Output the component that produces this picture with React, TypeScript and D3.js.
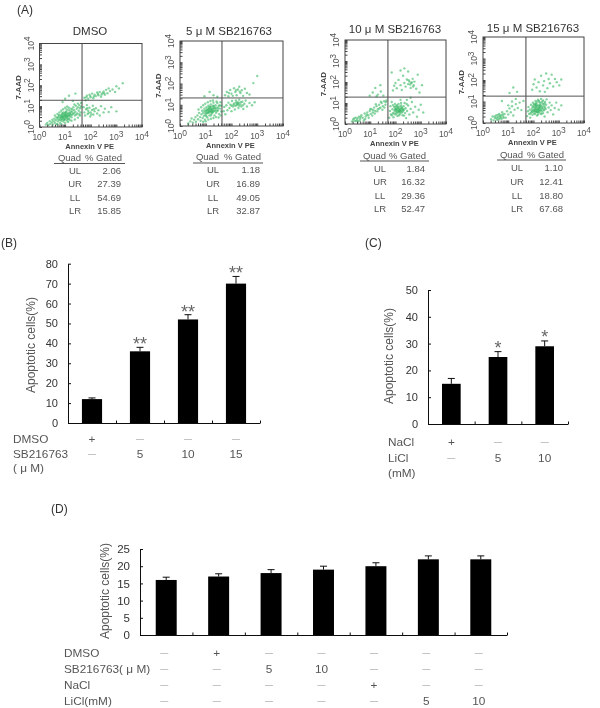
import { useEffect, useRef } from 'react';
import * as d3 from 'd3';

type Pt = [number, number];

const FONT = '"Liberation Sans", Arial, sans-serif';
const TEXT = '#333333';
const SOFT = '#555555';
const DOT = '#39b764';

// Flow cytometry events in log10 decades (x, y)
const dmsoEvents: Pt[] = [
  [.25,.12],[.3,.2],[.35,.1],[.4,.28],[.42,.15],[.48,.22],[.5,.35],[.52,.12],[.55,.27],[.58,.4],[.6,.2],[.63,.32],[.66,.47],[.68,.15],[.7,.38],[.72,.27],[.75,.5],[.77,.34],[.8,.2],[.8,.44],[.83,.57],[.85,.3],[.87,.48],[.9,.38],[.9,.62],[.93,.26],[.95,.52],[.97,.44],[1,.68],[1,.35],[1.02,.56],[1.05,.47],[1.05,.74],[1.08,.3],[1.1,.62],[1.12,.52],[1.15,.8],[1.15,.4],[1.18,.67],[1.2,.56],[1.22,.88],[1.25,.47],[1.27,.73],[1.3,.63],[1.32,.95],[1.35,.8],[1.38,.55],[1.4,.72],[1.42,1.02],[1.45,.87],[1.48,.65],[1.5,.95],[1.53,.78],[1.55,1.05],[1.58,.9],[1.6,.7],[1.62,.98],
  [.92,.45],[.96,.6],[1.01,.5],[1.04,.62],[1.07,.42],[1.09,.55],[1.13,.66],[.86,.41],[.88,.55],[1.17,.5],[1.21,.64],[.98,.38],[1.03,.7],[.82,.36],
  [.6,.55],[.7,.62],[.78,.7],[.85,.78],[.92,.85],[1,.92],[1.08,.98],[.7,.12],[.85,.14],[1,.2],[1.12,.24],[1.25,.3],[1.38,.36],[1.5,.45],[.94,.7],[.89,.66],[1.06,.84],[1.14,.92],[.76,.58],[.72,.45],[.84,.5],[.94,.34],[1.1,.38],[1.18,.34],[1.26,.58],[1.34,.66],[1.44,.6],[1.56,.6],[1.28,.85],[1.22,.74],[1.16,.58],[1.06,.52],[.99,.58],[.91,.5],[1.36,1.08],[1.5,1.12],[1.62,1.15],[1.58,.55],
  [1.72,.95],[1.75,.7],[1.78,.55],[1.82,.85],[1.85,1.05],[1.88,.62],[1.9,.78],[1.95,.92],[1.98,.5],[2,.7],[2.05,.82],[2.08,1.02],[2.1,.6],[2.15,.75],[2.2,.9],[2.25,.65],[2.3,.8],[2.35,.55],[2.4,1],[2.5,.7],[2.55,.88],[2.7,.72],[2.8,.95],[3,.75],[1.92,.68],[2.02,.6],[2.12,.85],[1.86,.9],
  [1.75,1.4],[1.8,1.28],[1.85,1.5],[1.9,1.35],[1.95,1.55],[2,1.42],[2.05,1.6],[2.1,1.38],[2.15,1.55],[2.2,1.48],[2.25,1.65],[2.3,1.52],[2.35,1.68],[2.4,1.45],[2.45,1.62],[2.5,1.7],[2.55,1.55],[2.6,1.78],[2.65,1.62],[2.75,1.72],[2.85,1.8],[2.95,1.68],[3.1,1.85],[3.25,2.1],[3,1.95],[1.82,1.42],[1.98,1.48],[2.12,1.46],[2.28,1.58],[2.42,1.55],[2.52,1.62],[2.7,1.85],
  [1,1.35],[1.15,1.5],[1.3,1.25],[1.4,1.6],[.9,1.2],
];

const sb5Events: Pt[] = [
  [.32,.12],[.4,.22],[.45,.35],[.5,.16],[.55,.3],[.6,.42],[.62,.2],[.68,.5],[.7,.32],[.74,.62],[.78,.42],[.8,.25],[.83,.55],[.86,.72],[.88,.38],[.9,.62],[.93,.48],[.95,.82],[.97,.3],[1,.68],[1,.52],[1.03,.88],[1.05,.6],[1.06,.4],[1.08,.76],[1.1,.95],[1.12,.62],[1.14,.5],[1.16,.84],[1.18,.7],[1.2,1.02],[1.22,.58],[1.24,.78],[1.26,.92],[1.28,.66],[1.3,1.1],[1.32,.84],[1.34,.5],[1.36,.72],[1.38,.98],[1.4,.62],[1.42,.86],[1.45,1.08],[1.47,.74],[1.5,.94],[1.52,.56],[1.55,.82],[1.57,1.12],[1.6,.68],[1.6,.95],
  [1.02,.72],[1.07,.62],[1.11,.8],[1.15,.66],[1.19,.9],[1.23,.7],[1.27,.82],[1.31,.7],[1.09,.68],[1.17,.76],[1.25,.62],[1.35,.85],[1.13,.86],[1.21,.8],[1.29,.95],
  [.72,.78],[.82,.88],[.9,.98],[.98,1.05],[1.08,1.12],[1.18,1.18],[.9,.2],[1,.22],[1.1,.3],[1.2,.34],[1.3,.38],[1.4,.42],[1.5,.4],[1.58,.5],[.94,.72],[.98,.6],[1.04,.78],[1.12,.72],[1.16,.92],[1.22,.68],[1.28,.76],[1.33,.92],[1.39,.78],[1.44,.7],[1.48,.85],[1.54,.98],[1.42,1.15],[1.28,1.2],[1.02,.46],[1.2,.5],
  [1.7,.7],[1.72,.9],[1.76,.55],[1.8,.98],[1.84,.74],[1.88,1.1],[1.92,.85],[1.96,1],[2,.7],[2.02,1.18],[2.06,.92],[2.1,1.06],[2.13,.78],[2.17,1.2],[2.2,.98],[2.24,1.12],[2.27,.85],[2.3,1.24],[2.34,1.02],[2.38,.92],[2.42,1.14],[2.46,.8],[2.5,1.05],[2.55,1.2],[2.6,.92],[2.7,1.08],[2.8,.98],[2.9,1.12],[2.25,1.02],[2.15,.95],[2.22,1.05],[2.3,.95],[2.36,1.12],[2.28,1.08],[2.18,1.1],[2.08,1],[2,.95],[2.44,.98],
  [1.75,1.45],[1.82,1.6],[1.88,1.4],[1.95,1.7],[2,1.52],[2.05,1.42],[2.1,1.78],[2.15,1.6],[2.2,1.45],[2.25,1.72],[2.3,1.85],[2.35,1.55],[2.4,1.68],[2.45,1.42],[2.52,1.75],[2.6,1.55],[2.7,1.48],[2.85,2.02],[3,2.35],[1.9,1.55],[2.18,1.68],[2.32,1.62],
  [.95,1.4],[1.15,1.6],[1.3,1.45],[1.45,1.38],
];

const sb10Events: Pt[] = [
  [.28,.12],[.32,.22],[.38,.15],[.42,.3],[.48,.2],[.52,.12],[.55,.35],[.6,.25],[.65,.42],[.7,.3],[.75,.18],[.78,.5],[.82,.36],[.88,.55],[.92,.42],[.98,.62],[1.02,.48],[1.05,.7],[1.1,.55],[1.15,.78],[1.2,.62],[1.25,.85],[1.3,.7],[1.35,.92],[1.4,.78],[1.45,1],[1.5,.85],[1.55,1.08],[1.6,.92],[1.64,1.12],
  [.36,.26],[.44,.14],[.5,.28],[.58,.16],[.62,.34],[.8,.24],[.86,.44],[.94,.3],[1,.72],[1.08,.4],[1.12,.66],[1.18,.5],[1.22,.94],[1.28,.6],[1.36,.74],[1.42,1.06],[1.48,.68],[1.56,.78],[1.62,1.05],
  [.98,1.35],[1.1,1.5],[1.2,1.72],[1.3,1.4],[1.4,1.85],[1.42,1.55],[1.52,1.35],[1.25,1.32],
  [1.75,.3],[1.78,.62],[1.8,.85],[1.82,.45],[1.85,1.05],[1.88,.7],[1.9,.52],[1.92,.32],[1.94,.82],[1.96,.62],[1.98,.95],[2,.45],[2,.72],[2.02,.58],[2.04,.85],[2.06,.66],[2.08,.38],[2.1,.75],[2.1,.55],[2.12,.95],[2.14,.62],[2.16,.82],[2.18,.48],[2.18,.7],[2.2,.58],[2.22,.88],[2.24,.65],[2.26,.76],[2.28,.42],[2.3,.6],[2.32,.85],[2.34,.68],[2.36,1],[2.38,.52],[2.4,.75],[2.42,.28],[2.46,.62],[2.5,.88],[2.55,.45],[2.6,.72],[2.65,1.05],[2.7,.55],[2.78,.82],[2.85,.35],[2.92,.68],[3,.92],[3.1,.55],[2.05,.75],[2.12,.7],[2.15,.58],[2.08,.6],[2.2,.72],[2.02,.68],[2.25,.55],[1.98,.7],[2.16,.66],[2.3,.72],
  [1.94,.5],[2.06,.9],[2.14,.42],[2.22,1],[2.34,.4],[2.44,.95],[2.1,.82],[2.24,.8],[2.18,.6],[2.28,.66],[2.04,.5],[2,.82],[1.9,.9],[1.86,.42],
  [2.45,1.15],[2.6,1.25],[2.2,1.15],
  [1.9,1.6],[1.95,1.82],[2,1.95],[2.05,1.7],[2.12,2.1],[2.2,1.85],[2.25,1.62],[2.3,2.3],[2.35,1.95],[2.4,1.78],[2.45,2.12],[2.5,1.9],[2.55,2.02],[2.6,1.72],[2.62,1.95],[2.68,2.15],[2.72,1.85],[2.75,2.02],[2.82,1.68],[2.88,2.35],[2.95,1.5],[2.2,2.55],[2.35,2.65],[2.5,2.5],[1.85,2.45],[3.05,1.85],[2.58,1.88],[2.65,1.98],[2.7,1.78],[2.52,2.08],
];

const sb15Events: Pt[] = [
  [.32,.18],[.38,.3],[.42,.12],[.48,.22],[.52,.35],[.56,.15],[.6,.28],[.64,.42],[.68,.22],[.72,.36],[.76,.5],[.8,.3],[.85,.42],[.9,.25],[.95,.55],[1,.4],[1.05,.68],[1.1,.5],[1.15,.78],[1.2,.35],[1.25,.62],[1.3,.88],[1.38,.7],[1.45,.95],[1.52,.6],[1.6,1.02],
  [.46,.3],[.54,.24],[.62,.18],[.66,.34],[.7,.28],[.74,.2],[.78,.4],[.82,.24],[.58,.38],
  [.75,1.02],[1,.82],[1.15,1],[1.3,1.12],
  [1.05,1.4],[1.2,1.65],[1.35,1.45],
  [1.75,.32],[1.78,.55],[1.8,.75],[1.83,.42],[1.85,.62],[1.87,.25],[1.9,.85],[1.92,.5],[1.94,.68],[1.96,.38],[1.98,.95],[2,.58],[2,.75],[2.02,.45],[2.04,.85],[2.06,.65],[2.08,1.02],[2.1,.52],[2.1,.75],[2.12,.9],[2.14,.35],[2.16,.62],[2.18,.82],[2.18,1.08],[2.2,.5],[2.22,.7],[2.24,.95],[2.26,.6],[2.28,.82],[2.3,1.12],[2.32,.42],[2.34,.68],[2.36,.9],[2.38,1.05],[2.4,.58],[2.42,.78],[2.44,.3],[2.46,.98],[2.48,.65],[2.5,.85],[2.52,1.1],[2.56,.5],[2.6,.72],[2.64,.95],[2.68,.6],[2.72,.82],[2.78,.4],[2.84,.7],[2.9,.95],[3,.62],[3.1,.82],
  [2.02,.62],[2.05,.72],[2.08,.55],[2.11,.66],[2.13,.78],[2.16,.7],[2.19,.6],[2.21,.8],[2.24,.68],[2.27,.74],[2.07,.82],[2.14,.5],[2.23,.55],[2.3,.62],[2.33,.78],[2.12,.6],[2.17,.52],[2.26,.85],[2.36,.7],[2.4,.88],
  [1.88,.44],[1.93,.58],[1.97,.78],[2.01,.88],[2.09,.92],[2.15,1],[2.22,1.02],[2.29,.95],[2.35,1],[2.44,.9],[2.46,.72],[2.38,.46],[2.28,.44],[2.18,.4],[2.06,.42],[1.96,.52],[2.04,.55],[2.2,.62],[2.32,.55],[2.25,.75],[2.1,.85],[2.42,.62],
  [1.95,1.55],[2,1.8],[2.05,2.02],[2.12,1.65],[2.2,1.9],[2.25,1.48],[2.3,2.2],[2.38,1.75],[2.42,1.95],[2.5,2.3],[2.55,1.62],[2.6,2.05],[2.65,1.85],[2.72,2.25],[2.78,1.7],[2.85,2.05],[2.92,1.9],[3.02,1.75],[3.1,2.02],[2.45,1.45],
];

const quadLabels = ['UL', 'UR', 'LL', 'LR'];
const dmsoGated = ['2.06', '27.39', '54.69', '15.85'];
const sb5Gated = ['1.18', '16.89', '49.05', '32.87'];
const sb10Gated = ['1.84', '16.32', '29.36', '52.47'];
const sb15Gated = ['1.10', '12.41', '18.80', '67.68'];

const flowTitles = ['DMSO', '5 \u03bc M SB216763', '10 \u03bc M SB216763', '15 \u03bc M SB216763'];

// Bar panels
const bValues = [12, 36, 52, 70];
const bErrors = [0.6, 2, 2.4, 3.6];
const bStars = ['', '**', '**', '**'];
const bRows = [
  { label: 'DMSO', cells: ['+', '\u2014', '\u2014', '\u2014'] },
  { label: 'SB216763', cells: ['\u2014', '5', '10', '15'] },
  { label: '( \u03bc M)', cells: [] as string[] },
];

const cValues = [15, 25, 29];
const cErrors = [2, 2, 2];
const cStars = ['', '*', '*'];
const cRows = [
  { label: 'NaCl', cells: ['+', '\u2014', '\u2014'] },
  { label: 'LiCl', cells: ['\u2014', '5', '10'] },
  { label: '(mM)', cells: [] as string[] },
];

const dValues = [16, 17, 18, 19, 20, 22, 22];
const dErrors = [0.8, 0.8, 1, 1, 1, 1, 1];
const dRows = [
  { label: 'DMSO', cells: ['\u2014', '+', '\u2014', '\u2014', '\u2014', '\u2014', '\u2014'] },
  { label: 'SB216763( \u03bc M)', cells: ['\u2014', '\u2014', '5', '10', '\u2014', '\u2014', '\u2014'] },
  { label: 'NaCl', cells: ['\u2014', '\u2014', '\u2014', '\u2014', '+', '\u2014', '\u2014'] },
  { label: 'LiCl(mM)', cells: ['\u2014', '\u2014', '\u2014', '\u2014', '\u2014', '5', '10'] },
];

type Sel = d3.Selection<SVGGElement, unknown, null, undefined>;

function addText(g: Sel, x: number, y: number, str: string, size: number, anchor = 'start', fill = TEXT) {
  return g.append('text')
    .attr('x', x).attr('y', y)
    .attr('font-family', FONT).attr('font-size', size)
    .attr('text-anchor', anchor).attr('fill', fill)
    .text(str);
}

function power10(sel: d3.Selection<SVGTextElement, unknown, null, undefined>, exp: number) {
  sel.append('tspan').text('10');
  sel.append('tspan').attr('dy', -3.5).attr('font-size', 8.5).text(exp);
}

function drawFlow(g: Sel, o: any) {
  const x = d3.scaleLog().domain([1, 1e4]).range([o.x0, o.x1]);
  const y = d3.scaleLog().domain([1, 1e4]).range([o.y0, o.y1]);
  const dec = [1, 10, 100, 1000, 10000];

  addText(g, o.titleX, o.titleY, o.title, 11.5, 'middle');

  // events
  g.append('g').attr('filter', 'url(#soft)')
    .selectAll('circle').data(o.events as Pt[]).join('circle')
    .attr('cx', d => x(10 ** d[0]))
    .attr('cy', d => y(10 ** d[1]))
    .attr('r', 1.2)
    .attr('fill', DOT)
    .attr('opacity', 0.6);

  // frame and gates
  g.append('rect')
    .attr('x', o.x0).attr('y', o.y1)
    .attr('width', o.x1 - o.x0).attr('height', o.y0 - o.y1)
    .attr('fill', 'none').attr('stroke', '#444').attr('stroke-width', 1);
  g.append('line').attr('x1', x(10 ** o.gateX)).attr('x2', x(10 ** o.gateX))
    .attr('y1', o.y1).attr('y2', o.y0).attr('stroke', '#444').attr('stroke-width', 1);
  g.append('line').attr('y1', y(10 ** o.gateY)).attr('y2', y(10 ** o.gateY))
    .attr('x1', o.x0).attr('x2', o.x1).attr('stroke', '#555').attr('stroke-width', 1);

  // log ticks, minor and major
  const tx = g.append('g').attr('transform', `translate(0,${o.y0})`);
  tx.call(d3.axisTop(x).tickValues(x.ticks()).tickSize(2.5).tickFormat(() => '') as any);
  tx.select('.domain').remove();
  const ty = g.append('g').attr('transform', `translate(${o.x0},0)`);
  ty.call(d3.axisRight(y).tickValues(y.ticks()).tickSize(2.5).tickFormat(() => '') as any);
  ty.select('.domain').remove();
  g.selectAll('.tick line').attr('stroke', '#444');

  dec.forEach((v, i) => {
    const t = g.append('text')
      .attr('x', x(v)).attr('y', o.y0 + 13)
      .attr('font-family', FONT).attr('font-size', 8.5).attr('fill', SOFT)
      .attr('text-anchor', 'middle');
    power10(t as any, i);
    const ly = g.append('text')
      .attr('transform', `translate(${o.x0 - 6},${y(v)}) rotate(-90)`)
      .attr('font-family', FONT).attr('font-size', 8.5).attr('fill', SOFT)
      .attr('text-anchor', 'middle');
    power10(ly as any, i);
  });

  addText(g, (o.x0 + o.x1) / 2 - 1, o.y0 + 21.5, 'Annexin V PE', 7.5, 'middle', '#444').attr('font-weight', 'bold');
  g.append('text')
    .attr('transform', `translate(${o.x0 - 19},${y(10 ** 1.9)}) rotate(-90)`)
    .attr('font-family', FONT).attr('font-size', 8).attr('font-weight', 'bold')
    .attr('fill', '#444').attr('text-anchor', 'middle').text('7-AAD');

  // gated table
  const { tx0, tx1, qx, vx, head, rule, rows } = o.table;
  addText(g, qx - 5.5, head + 3.5, 'Quad', 9.5, 'middle', SOFT);
  addText(g, vx, head + 3.5, '% Gated', 9.5, 'end', SOFT);
  g.append('line').attr('x1', tx0).attr('x2', tx1).attr('y1', rule).attr('y2', rule)
    .attr('stroke', '#555').attr('stroke-width', 1);
  quadLabels.forEach((q, i) => {
    addText(g, qx, rows[i] + 3.5, q, 9.5, 'middle', SOFT);
    addText(g, vx - 1, rows[i] + 3.5, o.gated[i], 9.5, 'end', SOFT);
  });
}

function drawBars(g: Sel, o: any) {
  const n = o.values.length;
  const x = d3.scaleBand<number>().domain(d3.range(n)).range([o.x0, o.x1]).paddingInner(o.pad).paddingOuter(o.pad / 2);
  const y = d3.scaleLinear().domain([0, o.max]).range([o.y0, o.y1]);
  const edges = d3.scaleLinear().domain([0, n]).range([o.x0, o.x1]);

  // bars with upper error whiskers
  o.values.forEach((v: number, i: number) => {
    const cx = x(i)! + x.bandwidth() / 2;
    const top = y(v + o.errors[i]);
    g.append('line').attr('x1', cx).attr('x2', cx).attr('y1', y(v)).attr('y2', top)
      .attr('stroke', '#111').attr('stroke-width', 1);
    g.append('line').attr('x1', cx - 3.5).attr('x2', cx + 3.5).attr('y1', top).attr('y2', top)
      .attr('stroke', '#111').attr('stroke-width', 1);
    g.append('rect').attr('x', x(i)!).attr('y', y(v))
      .attr('width', x.bandwidth()).attr('height', o.y0 - y(v)).attr('fill', '#000');
    if (o.stars && o.stars[i]) {
      addText(g, cx, top + o.starDy, o.stars[i], 18, 'middle', '#666');
    }
  });

  const ax = g.append('g').attr('transform', `translate(0,${o.y0})`);
  ax.call(d3.axisBottom(edges).tickValues(d3.range(1, n + 1)).tickSizeInner(-2.5).tickSizeOuter(0).tickFormat(() => '') as any);
  const ay = g.append('g').attr('transform', `translate(${o.x0},0)`);
  ay.call(d3.axisLeft(y).ticks(o.tickCount).tickSizeInner(-3).tickSizeOuter(0).tickPadding(o.tickPad) as any);
  ay.selectAll('text').attr('font-family', FONT).attr('font-size', o.tickFont).attr('fill', TEXT);
  g.selectAll('.domain, .tick line').attr('stroke', '#111');

  g.append('text')
    .attr('transform', `translate(${o.labelX},${o.labelY}) rotate(-90)`)
    .attr('font-family', FONT).attr('font-size', 12).attr('fill', SOFT)
    .attr('text-anchor', 'middle').text('Apoptotic cells(%)');

  // treatment rows under the axis
  o.rows.forEach((r: any, ri: number) => {
    addText(g, o.rowX, o.rowY[ri] + 4, r.label, 11.8, 'start', SOFT);
    r.cells.forEach((c: string, i: number) => {
      const cx = x(i)! + x.bandwidth() / 2 + o.cellDx;
      const dash = c === '\u2014';
      addText(g, cx, o.rowY[ri] + (dash ? 2 : 4), c, dash ? 8 : 11.8, 'middle', dash ? '#8a8a8a' : SOFT);
    });
  });
}

export default function App() {
  const svgRef = useRef<SVGSVGElement>(null);

  useEffect(() => {
    const svg = d3.select(svgRef.current!);
    svg.selectAll('*').remove();

    const defs = svg.append('defs');
    defs.append('filter').attr('id', 'soft').append('feGaussianBlur').attr('stdDeviation', 0.45);
    defs.append('filter').attr('id', 'jpeg').append('feGaussianBlur').attr('stdDeviation', 0.3);

    const root = svg.append('g').attr('filter', 'url(#jpeg)') as unknown as Sel;

    addText(root, 17, 14, '(A)', 12);
    addText(root, 1, 247, '(B)', 12);
    addText(root, 365, 247, '(C)', 12);
    addText(root, 51, 513, '(D)', 12);

    const flows = [
      { title: flowTitles[0], titleX: 90, titleY: 35, events: dmsoEvents, gated: dmsoGated,
        x0: 39.5, x1: 142, y0: 127, y1: 43.5, gateX: 1.66, gateY: 1.28,
        table: { tx0: 54, tx1: 125, qx: 75, vx: 122, head: 157, rule: 163.5, rows: [170, 183, 197, 210] } },
      { title: flowTitles[1], titleX: 229, titleY: 35, events: sb5Events, gated: sb5Gated,
        x0: 180, x1: 283, y0: 126, y1: 41, gateX: 1.63, gateY: 1.32,
        table: { tx0: 193, tx1: 263, qx: 213, vx: 261, head: 156, rule: 163, rows: [169.5, 183, 197, 210] } },
      { title: flowTitles[2], titleX: 395, titleY: 33, events: sb10Events, gated: sb10Gated,
        x0: 345, x1: 446, y0: 124, y1: 40, gateX: 1.7, gateY: 1.28,
        table: { tx0: 360, tx1: 429, qx: 380, vx: 426, head: 155, rule: 161, rows: [168, 181, 195, 208] } },
      { title: flowTitles[3], titleX: 533, titleY: 32, events: sb15Events, gated: sb15Gated,
        x0: 483, x1: 584, y0: 123, y1: 37, gateX: 1.7, gateY: 1.25,
        table: { tx0: 497, tx1: 566, qx: 517, vx: 564, head: 154, rule: 160, rows: [167, 181, 195, 208] } },
    ];
    flows.forEach(f => drawFlow(root.append('g') as unknown as Sel, f));

    drawBars(root.append('g') as unknown as Sel, {
      values: bValues, errors: bErrors, stars: bStars, starDy: 3, rows: bRows,
      x0: 68, x1: 260, y0: 423, y1: 263.7, max: 80, pad: 0.58, tickCount: 8,
      tickPad: 10, tickFont: 11, labelX: 35, labelY: 345,
      rowX: 13, rowY: [439, 454, 468], cellDx: 0,
    });
    drawBars(root.append('g') as unknown as Sel, {
      values: cValues, errors: cErrors, stars: cStars, starDy: 2, rows: cRows,
      x0: 428, x1: 568, y0: 424, y1: 290, max: 50, pad: 0.6, tickCount: 5,
      tickPad: 10, tickFont: 11, labelX: 393, labelY: 356,
      rowX: 388, rowY: [442, 458, 473], cellDx: 0,
    });
    drawBars(root.append('g') as unknown as Sel, {
      values: dValues, errors: dErrors, rows: dRows,
      x0: 140, x1: 507, y0: 635, y1: 549, max: 25, pad: 0.6, tickCount: 5,
      tickPad: 10, tickFont: 11.5, labelX: 109, labelY: 591,
      rowX: 64, rowY: [653, 669, 685, 701], cellDx: -2,
    });
  }, []);

  return (
    <svg
      ref={svgRef}
      width={600}
      height={708}
      style={{ position: 'absolute', left: 0, top: 0, display: 'block', background: '#fff' }}
    />
  );
}
